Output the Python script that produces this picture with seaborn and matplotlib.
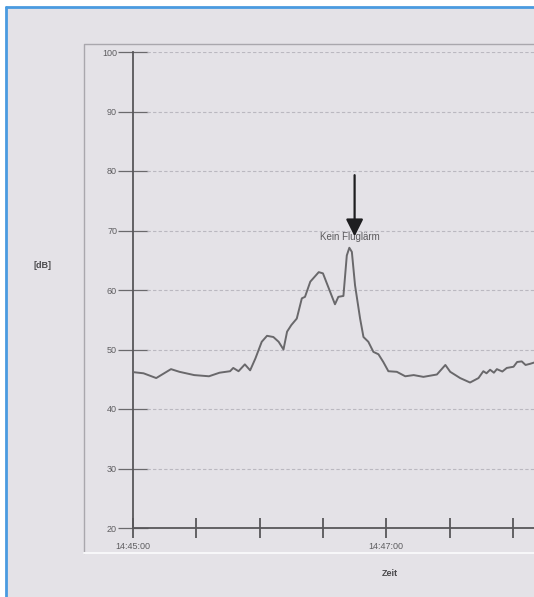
import matplotlib
matplotlib.use("Agg")
import matplotlib.pyplot as plt
import matplotlib.patches as mpatches
import seaborn as sns
import pandas as pd

# Sound level trace, seconds after 14:45:00
seconds = [0, 5, 11, 18, 22, 29, 36, 41, 46, 47.5, 50, 53, 55.5, 58, 61, 63.5,
           66.5, 69, 71.3, 73, 75, 77.6, 80, 81.5, 84, 88, 90, 93.4, 95.7, 97.3,
           99.7, 101.3, 102.5, 103.7, 105.2, 107.6, 109.2, 111.5, 113.9, 116.3,
           118.6, 121, 125, 129, 133, 137.6, 144, 148, 150.3, 155, 159.7, 163.7,
           166, 167.5, 169.2, 171, 172.4, 175, 177.1, 180.3, 182, 184.2, 186, 188.2, 190]
level_db = [46.2, 46.0, 45.2, 46.7, 46.25, 45.7, 45.5, 46.1, 46.35, 46.9, 46.35,
            47.5, 46.5, 48.5, 51.3, 52.3, 52.1, 51.3, 50.0, 53.0, 54.1, 55.2, 58.6,
            58.85, 61.4, 63.0, 62.8, 59.7, 57.6, 58.85, 59.0, 65.8, 67.1, 66.4, 60.8,
            55.2, 52.1, 51.3, 49.6, 49.2, 47.9, 46.35, 46.25, 45.5, 45.7, 45.4, 45.8,
            47.4, 46.25, 45.2, 44.45, 45.2, 46.35, 46.0, 46.6, 46.1, 46.7, 46.3, 46.9,
            47.1, 47.9, 48.0, 47.4, 47.6, 47.8]

y_ticks = [20, 30, 40, 50, 60, 70, 80, 90, 100]
x_ticks = [0, 30, 60, 90, 120, 150, 180]
x_tick_labels = ["14:45:00", "", "", "", "14:47:00", "", ""]

annotation_text = "Kein Fluglärm"
annotation_time = 105
annotation_level = 69.0

sns.set_theme(style="white")
plt.rcParams["font.family"] = ["Liberation Sans", "DejaVu Sans"]

W, H = 534, 597
fig = plt.figure(figsize=(W / 100, H / 100), dpi=100, facecolor="white")

def fx(px):
    return px / W

def fy(py):
    return 1 - py / H

bg = "#e4e2e7"
# page background with blue border on top and left
fig.patches.append(mpatches.Rectangle((fx(6), 0), 1 - fx(6), fy(7), transform=fig.transFigure,
                                      facecolor=bg, edgecolor="none", zorder=0))
fig.lines.append(plt.Line2D([fx(6), fx(6)], [0, fy(7)], transform=fig.transFigure,
                            color="#4a9be0", lw=2, zorder=1))
fig.lines.append(plt.Line2D([fx(6), 1], [fy(7), fy(7)], transform=fig.transFigure,
                            color="#4a9be0", lw=2, zorder=1))
# inner chart frame
fig.lines.append(plt.Line2D([fx(84), fx(84), 1], [fy(553), fy(44), fy(44)],
                            transform=fig.transFigure, color="#a9a7ad", lw=1, zorder=1))
fig.lines.append(plt.Line2D([fx(84), 1], [fy(553), fy(553)],
                            transform=fig.transFigure, color="#f7f7f9", lw=1.5, zorder=1))

ax = fig.add_axes([fx(133), fy(528), 1 - fx(133), fy(52) - fy(528)])
ax.set_zorder(3)
ax.set_facecolor("none")

df = pd.DataFrame({"t": seconds, "db": level_db})
sns.lineplot(data=df, x="t", y="db", ax=ax, color="#69686b", lw=1.4, zorder=3)

ax.set_xlim(0, 190)
ax.set_ylim(20, 100)

for v in y_ticks[1:]:
    ax.plot([6.5, 190], [v, v], color="#bab8c0", lw=0.8, ls=(0, (3, 2)), zorder=1)

ax.set_yticks(y_ticks)
ax.set_yticklabels([str(v) for v in y_ticks])
ax.set_xticks(x_ticks)
ax.set_xticklabels(x_tick_labels)

for s in ["top", "right"]:
    ax.spines[s].set_visible(False)
for s in ["left", "bottom"]:
    ax.spines[s].set_color("#58575a")
    ax.spines[s].set_linewidth(1.3)

ax.tick_params(axis="y", left=True, direction="inout", length=21, width=0.9, color="#6a696c",
               labelsize=6.5, labelcolor="#5e5d60", pad=1)
ax.tick_params(axis="x", bottom=True, direction="inout", length=14, width=1.3, color="#58575a",
               labelsize=6.5, labelcolor="#5e5d60", pad=3)

ax.set_xlabel("")
ax.set_ylabel("")
fig.text(fx(390), fy(573), "Zeit", ha="center", va="center", fontsize=6.5,
         color="#4a494c", fontweight="bold")
fig.text(fx(43), fy(266), "[dB]", ha="center", va="center", fontsize=6.5,
         color="#4a494c", fontweight="bold")

ax.text(102.9, 68.9, annotation_text, ha="center", va="center", fontsize=7,
        color="#5a595c", zorder=4)
ax.annotate("", xy=(annotation_time, annotation_level), xytext=(annotation_time, 79.3),
            arrowprops=dict(arrowstyle="-|>", lw=1.6, color="#1e1e20",
                            mutation_scale=26, shrinkA=0, shrinkB=0), zorder=5)

fig.savefig("out.png", dpi=100, facecolor=fig.get_facecolor())
